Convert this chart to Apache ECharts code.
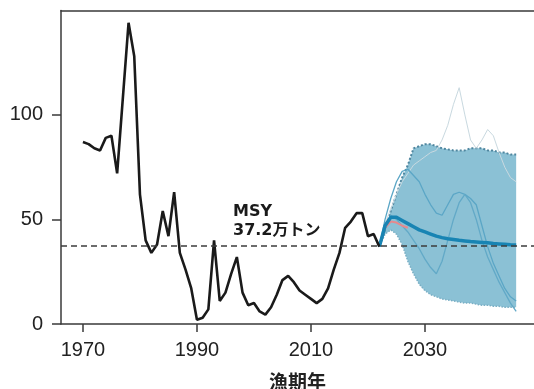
<!DOCTYPE html>
<html>
<head>
<meta charset="utf-8">
<script src="https://cdn.jsdelivr.net/npm/echarts@6/dist/echarts.min.js"></script>
<style>
  html, body { margin: 0; padding: 0; background: #fff; }
  #chart { width: 534px; height: 389px; }
</style>
</head>
<body>
<div id="chart"></div>
<script>
// Catch (万トン) by fishing year, observed
const histYears = [1970,1971,1972,1973,1974,1975,1976,1977,1978,1979,
  1980,1981,1982,1983,1984,1985,1986,1987,1988,1989,
  1990,1991,1992,1993,1994,1995,1996,1997,1998,1999,
  2000,2001,2002,2003,2004,2005,2006,2007,2008,2009,
  2010,2011,2012,2013,2014,2015,2016,2017,2018,2019,
  2020,2021,2022];
const histValues = [87,86,84,83,89,90,72,108,144,128,
  62,40,34,38,54,42,63,34,26,17,
  2,3,7,40,11,15,24,32,15,9,
  10,6,4.5,8,14,21,23,20,16,14,
  12,10,12,17,26,34,46,49,53,53,
  42,43,37];

// Projection years
const projYears = [2022,2023,2024,2025,2026,2027,2028,2029,2030,2031,
  2032,2033,2034,2035,2036,2037,2038,2039,2040,2041,
  2042,2043,2044,2045,2046];
// Median projection
const projMedian = [37,47,51,51,49.5,48,46.5,45,44,43,
  42,41.3,40.8,40.4,40,39.7,39.4,39.2,39,38.8,
  38.5,38.3,38.1,37.9,37.8];
// Alternative median (short)
const projAlt = [37,46,49,48.5,47,46];
// 90% interval bounds
const projUpper = [37,45,54,62,70,76,84,85,86,86,
  85,84,83.5,83,83,83,84,84,84,83,
  83,82,82,81,81];
const projLower = [37,43,45,43,38,30,24,19,16,14,
  13,12,11.5,11,10.5,10,10,9.5,9,9,
  8.5,8.5,8,8,8];
// Sample trajectories
const trajA = [37,50,60,68,73,74,71,68,62,57,
  53,52,57,62,63,62,60,57,47,37,
  29,23,17,13,11];
const trajB = [37,47,52,50,47,44,40,36,31,27,
  24,30,40,50,58,62,58,50,40,32,
  26,20,15,10,6];
const trajC = [37,48,55,62,68,72,76,78,80,82,
  83,88,95,105,113,100,88,84,88,93,
  90,82,75,70,68];

const MSY = 37.2;
const xTicks = [1970, 1990, 2010, 2030];

function pairs(xs, ys) { return ys.map((v, i) => [xs[i], v]); }

const chart = echarts.init(document.getElementById('chart'), null, { renderer: 'canvas' });

const axisColor = '#3a3a3a';
const labelFont = 'Liberation Sans, Arial, sans-serif';

// band polygon: upper bound forward, lower bound backward
const bandData = projYears.map((y, i) => [y, projLower[i], projUpper[i]]);

chart.setOption({
  animation: false,
  backgroundColor: '#ffffff',
  grid: { left: 61, right: 0, top: 10.5, bottom: 65, containLabel: false, outerBoundsMode: 'none' },
  xAxis: [{
    type: 'value',
    min: 1966.15,
    max: 2049.13,
    splitLine: { show: false },
    axisLine: { lineStyle: { color: axisColor, width: 1.5 } },
    axisTick: { show: true, length: 8, lineStyle: { color: axisColor, width: 1.5 }, customValues: xTicks },
    axisLabel: { customValues: xTicks, formatter: v => String(v), color: '#222', fontSize: 20, fontFamily: labelFont, margin: 16 },
    name: '漁期年',
    nameLocation: 'middle',
    nameGap: 48,
    nameTextStyle: { color: '#222', fontSize: 19, fontWeight: 'bold', fontFamily: 'Noto Sans CJK JP' }
  }, {
    type: 'value',
    position: 'top',
    min: 1966.15,
    max: 2049.13,
    splitLine: { show: false },
    axisLine: { show: true, onZero: false, lineStyle: { color: axisColor, width: 1.5 } },
    axisTick: { show: false },
    axisLabel: { show: false }
  }],
  yAxis: {
    type: 'value',
    min: 0,
    max: 149.9,
    interval: 50,
    splitLine: { show: false },
    axisLine: { show: true, lineStyle: { color: axisColor, width: 1.5 } },
    axisTick: { show: true, length: 9, lineStyle: { color: axisColor, width: 1.5 } },
    axisLabel: {
      formatter: v => String(v),
      showMaxLabel: false,
      color: '#222', fontSize: 20, fontFamily: labelFont, margin: 18
    }
  },
  series: [
    {
      type: 'custom',
      z: 2,
      data: bandData,
      renderItem: function (params, api) {
        if (params.dataIndex !== 0) return null;
        const top = [], bottom = [];
        for (let i = 0; i < bandData.length; i++) {
          top.push(api.coord([bandData[i][0], bandData[i][2]]));
          bottom.push(api.coord([bandData[i][0], bandData[i][1]]));
        }
        return {
          type: 'polygon',
          shape: { points: top.concat(bottom.reverse()) },
          style: { fill: '#8bc1d5', stroke: 'none' }
        };
      }
    },
    {
      type: 'line', symbol: 'none', z: 3,
      data: pairs(projYears, projLower),
      lineStyle: { color: '#79aec4', width: 1.5, type: 'dotted' }
    },
    {
      type: 'line', symbol: 'none', z: 3,
      data: pairs(projYears, projUpper),
      lineStyle: { color: '#4f869f', width: 2, type: 'dotted' }
    },
    {
      type: 'line', symbol: 'none', z: 4,
      data: pairs(projYears, trajC),
      lineStyle: { color: '#c9d9e0', width: 1 }
    },
    {
      type: 'line', symbol: 'none', z: 4,
      data: pairs(projYears, trajA),
      lineStyle: { color: '#5ba6c6', width: 1.3 }
    },
    {
      type: 'line', symbol: 'none', z: 4,
      data: pairs(projYears, trajB),
      lineStyle: { color: '#62a9c7', width: 1.3 }
    },
    {
      type: 'line', symbol: 'none', z: 5,
      data: pairs(projYears.slice(0, projAlt.length), projAlt),
      lineStyle: { color: '#e58a8e', width: 2 }
    },
    {
      type: 'line', symbol: 'none', z: 6,
      data: pairs(projYears, projMedian),
      lineStyle: { color: '#1884b3', width: 3.5 }
    },
    {
      type: 'line', symbol: 'none', z: 7,
      data: pairs(histYears, histValues),
      lineStyle: { color: '#1a1a1a', width: 2.6 },
      markLine: {
        silent: true,
        symbol: ['none', 'none'],
        z: 8,
        lineStyle: { color: '#3c3c3c', width: 1.5, type: [6, 4] },
        label: { show: false },
        data: [{ yAxis: MSY }]
      }
    }
  ],
  graphic: [{
    type: 'text',
    left: 233,
    top: 202,
    z: 10,
    style: {
      text: 'MSY\n' + MSY.toFixed(1) + '万トン',
      fill: '#1a1a1a',
      font: 'bold 16px "DejaVu Sans", "Noto Sans CJK JP", sans-serif',
      lineHeight: 19
    }
  }]
});
</script>
</body>
</html>
